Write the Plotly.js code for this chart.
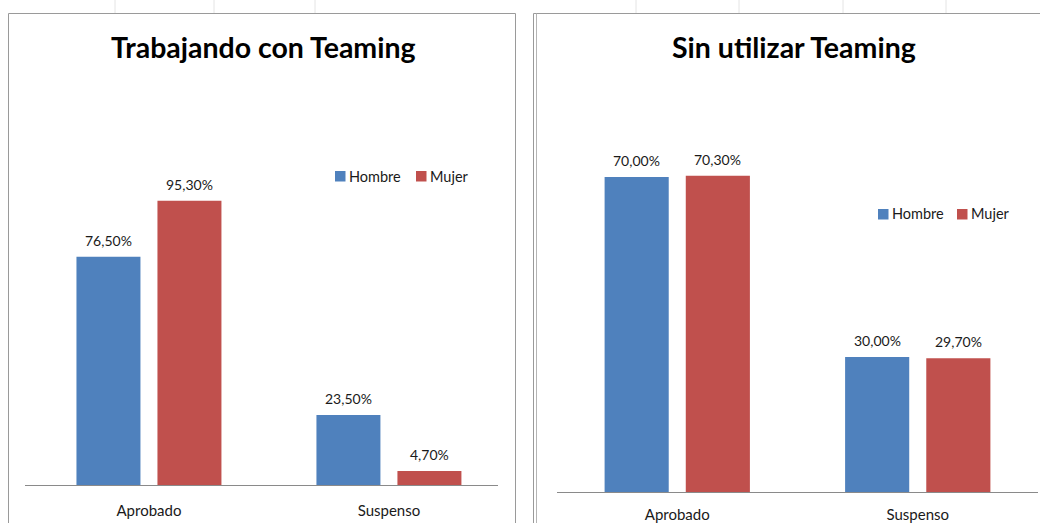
<!DOCTYPE html>
<html>
<head>
<meta charset="utf-8">
<script src="https://cdn.plot.ly/plotly-3.0.1.min.js"></script>
<style>html,body{margin:0;padding:0;background:#fff;}#chart{width:1040px;height:523px;}</style>
</head>
<body>
<div id="chart"></div>
<script>
// ---- data ----
var categories = ["Aprobado", "Suspenso"];
var seriesNames = ["Hombre", "Mujer"];
var hombreCon = [76.5, 23.5];
var mujerCon = [95.3, 4.7];
var hombreSin = [70.0, 30.0];
var mujerSin = [70.3, 29.7];
var titleCon = "Trabajando con Teaming";
var titleSin = "Sin utilizar Teaming";

// ---- layout helpers ----
var W = 1040, H = 523;
function px(x) { return x / W; }
function py(y) { return 1 - y / H; }
function fmt(v) { return v.toFixed(2).replace('.', ',') + '%'; }

var BLUE = '#4F81BD', RED = '#C0504D';
var COLORS = [BLUE, RED];
var FONT = 'Lato, "Open Sans", sans-serif';

var traces = [
  {type: 'bar', name: seriesNames[0], x: categories, y: hombreCon, marker: {color: BLUE}, xaxis: 'x', yaxis: 'y'},
  {type: 'bar', name: seriesNames[1], x: categories, y: mujerCon, marker: {color: RED}, xaxis: 'x', yaxis: 'y'},
  {type: 'bar', name: seriesNames[0], x: categories, y: hombreSin, marker: {color: BLUE}, xaxis: 'x2', yaxis: 'y2'},
  {type: 'bar', name: seriesNames[1], x: categories, y: mujerSin, marker: {color: RED}, xaxis: 'x2', yaxis: 'y2'}
];

var annotations = [];
function addLabels(vals, xref, yref, shift) {
  for (var i = 0; i < categories.length; i++) {
    annotations.push({
      x: categories[i], y: vals[i], xref: xref, yref: yref,
      xshift: shift, yshift: 6, yanchor: 'bottom', showarrow: false,
      text: fmt(vals[i]), font: {family: FONT, size: 14, color: '#1a1a1a'}
    });
  }
}
addLabels(hombreCon, 'x', 'y', -40.5);
addLabels(mujerCon, 'x', 'y', 40.5);
addLabels(hombreSin, 'x2', 'y2', -40.5);
addLabels(mujerSin, 'x2', 'y2', 40.5);

annotations.push({xref: 'paper', yref: 'paper', x: px(263), y: py(47), xanchor: 'center', yanchor: 'middle',
  showarrow: false, text: '<b>' + titleCon + '</b>', font: {family: FONT, size: 28.5, color: '#000'}});
annotations.push({xref: 'paper', yref: 'paper', x: px(794), y: py(47), xanchor: 'center', yanchor: 'middle',
  showarrow: false, text: '<b>' + titleSin + '</b>', font: {family: FONT, size: 28.5, color: '#000'}});

var shapes = [];
// faint spreadsheet cell lines above the frames
[115, 214, 315, 636, 739, 843, 946].forEach(function (x) {
  shapes.push({type: 'line', xref: 'paper', yref: 'paper', x0: px(x), x1: px(x), y0: py(0), y1: py(13), line: {color: '#e4e4e4', width: 1}});
});
// chart frames
shapes.push({type: 'rect', xref: 'paper', yref: 'paper', x0: px(8.5), x1: px(515.5), y0: py(13.5), y1: py(540), line: {color: '#9a9a9a', width: 1}});
shapes.push({type: 'rect', xref: 'paper', yref: 'paper', x0: px(533.5), x1: px(1050), y0: py(13.5), y1: py(540), line: {color: '#9a9a9a', width: 1}});
shapes.push({type: 'line', xref: 'paper', yref: 'paper', x0: px(536.5), x1: px(536.5), y0: py(13.5), y1: py(540), line: {color: '#b5b5b5', width: 1}});

// legends (swatch + label), one per chart
function addLegend(swatchX, cy) {
  for (var i = 0; i < seriesNames.length; i++) {
    var sx = swatchX[i];
    shapes.push({type: 'rect', xref: 'paper', yref: 'paper', x0: px(sx), x1: px(sx + 10.5), y0: py(cy + 5.5), y1: py(cy - 5),
      fillcolor: COLORS[i], line: {width: 0}});
    annotations.push({xref: 'paper', yref: 'paper', x: px(sx + 11.5), y: py(cy), xanchor: 'left', yanchor: 'middle',
      showarrow: false, text: seriesNames[i], font: {family: FONT, size: 14.5, color: '#1a1a1a'}});
  }
}
addLegend([335, 416], 176);
addLegend([878, 957], 214);

var axisX = {
  type: 'category', showline: true, linecolor: '#8a8a8a', linewidth: 1,
  ticks: '', showgrid: false, zeroline: false, fixedrange: true, ticklabelstandoff: 12,
  tickfont: {family: FONT, size: 15, color: '#1a1a1a'}
};
var axisY = {showgrid: false, zeroline: false, showline: false, showticklabels: false, ticks: '', fixedrange: true};

var layout = {
  width: W, height: H,
  margin: {l: 0, r: 0, t: 0, b: 0},
  paper_bgcolor: '#ffffff', plot_bgcolor: 'rgba(0,0,0,0)',
  barmode: 'group', bargap: 0.325, bargroupgap: 0.21,
  showlegend: false,
  xaxis: Object.assign({}, axisX, {domain: [px(25), px(498)], range: [-0.5165, 1.4545], anchor: 'y'}),
  yaxis: Object.assign({}, axisY, {domain: [py(485), py(127)], range: [0, 120], anchor: 'x'}),
  xaxis2: Object.assign({}, axisX, {domain: [px(557), px(1038)], range: [-0.5, 1.5], anchor: 'y2', ticklabelstandoff: 9}),
  yaxis2: Object.assign({}, axisY, {domain: [py(492), py(132)], range: [0, 80], anchor: 'x2'}),
  annotations: annotations,
  shapes: shapes
};

Plotly.newPlot('chart', traces, layout, {displayModeBar: false, staticPlot: true});
</script>
</body>
</html>
